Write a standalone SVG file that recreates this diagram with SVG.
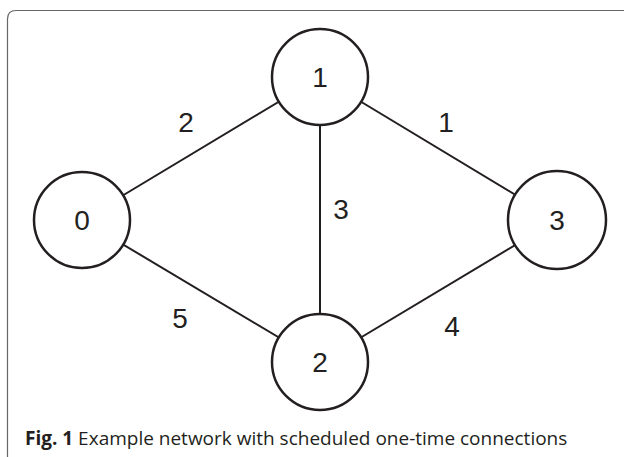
<svg xmlns="http://www.w3.org/2000/svg" width="624" height="457" viewBox="0 0 624 457">
<style>
.node{fill:#fff;stroke:#231f20;stroke-width:2.5}
.edge{stroke:#231f20;stroke-width:2;fill:none}
.lbl{font-family:"Liberation Sans",Arial,sans-serif;font-size:28px;fill:#231f20;text-anchor:middle}
.cap{font-family:"Open Sans","Noto Sans",sans-serif;font-size:19px;fill:#231f20}
</style>
<rect width="624" height="457" fill="#fff"/>
<path d="M7.5 457 V19 Q7.5 10.5 16 10.5 H624" fill="none" stroke="#666" stroke-width="1.2"/>
<g id="connectors">
<line class="edge" x1="82" y1="220" x2="320" y2="77"/>
<line class="edge" x1="82" y1="220" x2="320" y2="362"/>
<line class="edge" x1="320" y1="77" x2="320" y2="362"/>
<line class="edge" x1="320" y1="77" x2="557" y2="220"/>
<line class="edge" x1="320" y1="362" x2="557" y2="220"/>
<text class="lbl" x="186" y="132">2</text>
<text class="lbl" x="446" y="132">1</text>
<text class="lbl" x="341" y="219">3</text>
<text class="lbl" x="180" y="328">5</text>
<text class="lbl" x="452" y="336">4</text>
</g>
<g id="node0"><circle class="node" cx="82" cy="220" r="48"/><text class="lbl" x="82" y="230">0</text></g>
<g id="node1"><circle class="node" cx="320" cy="77" r="48"/><text class="lbl" x="320" y="87">1</text></g>
<g id="node2"><circle class="node" cx="320" cy="362" r="48"/><text class="lbl" x="320" y="372">2</text></g>
<g id="node3"><circle class="node" cx="557" cy="220" r="49"/><text class="lbl" x="557" y="230">3</text></g>
<text class="cap" x="25" y="445"><tspan font-weight="bold">Fig. 1</tspan> Example network with scheduled one-time connections</text>
</svg>
